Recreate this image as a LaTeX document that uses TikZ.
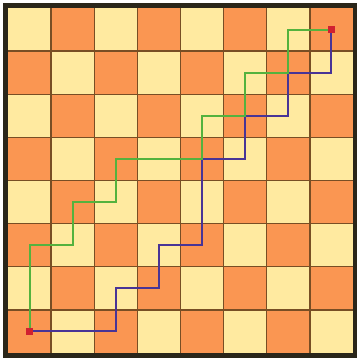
\documentclass[tikz,border=0pt]{standalone}
\usepackage{tikz}
\usetikzlibrary{calc}

\definecolor{lightsq}{RGB}{255,234,160}
\definecolor{darksq}{RGB}{250,150,82}
\definecolor{gridbrown}{RGB}{120,78,36}
\definecolor{frame}{RGB}{42,38,26}
\definecolor{pathgreen}{RGB}{84,178,62}
\definecolor{pathblue}{RGB}{72,52,150}
\definecolor{dotred}{RGB}{208,32,48}

\begin{document}
\begin{tikzpicture}[scale=1]
    \useasboundingbox (-0.186,-0.186) rectangle (8.093,8.186);
    % board
    \fill[lightsq] (0,0) rectangle (8,8);
    \foreach \i in {0,...,7} {
        \foreach \j in {0,...,7} {
            \pgfmathtruncatemacro\sqpar{mod(\i+\j,2)}
            \ifnum\sqpar=0 \fill[darksq] (\i,\j) rectangle ++(1,1); \fi
        }
    }
    \foreach \k in {1,...,7} {\draw[gridbrown, line width=1pt] (\k,0) -- (\k,8); \draw[gridbrown, line width=1pt] (0,\k) -- (8,\k);}
    \draw[frame, line width=3.3pt] (-0.055,-0.055) rectangle (8.055,8.055);

    \coordinate (S) at (0.5,0.5); \coordinate (E) at (7.5,7.5);
    \draw[pathblue, line width=1.4pt] (S) -- ++(2,0) -- ++(0,1) -- ++(1,0) -- ++(0,1) -- ++(1,0) -- ++(0,2)
        -- ++(1,0) -- ++(0,1) -- ++(1,0) -- ++(0,1) -- ++(1,0) -- (E);
    \draw[pathgreen, line width=1.4pt] (S) -- ++(0,2) -- ++(1,0) -- ++(0,1) -- ++(1,0) -- ++(0,1) -- ++(2,0)
        -- ++(0,1) -- ++(1,0) -- ++(0,1) -- ++(1,0) -- ++(0,1) -- (E);
    \foreach \p in {S,E} {\fill[dotred] ($(\p)-(0.08,0.08)$) rectangle ($(\p)+(0.08,0.08)$);}
\end{tikzpicture}
\end{document}
